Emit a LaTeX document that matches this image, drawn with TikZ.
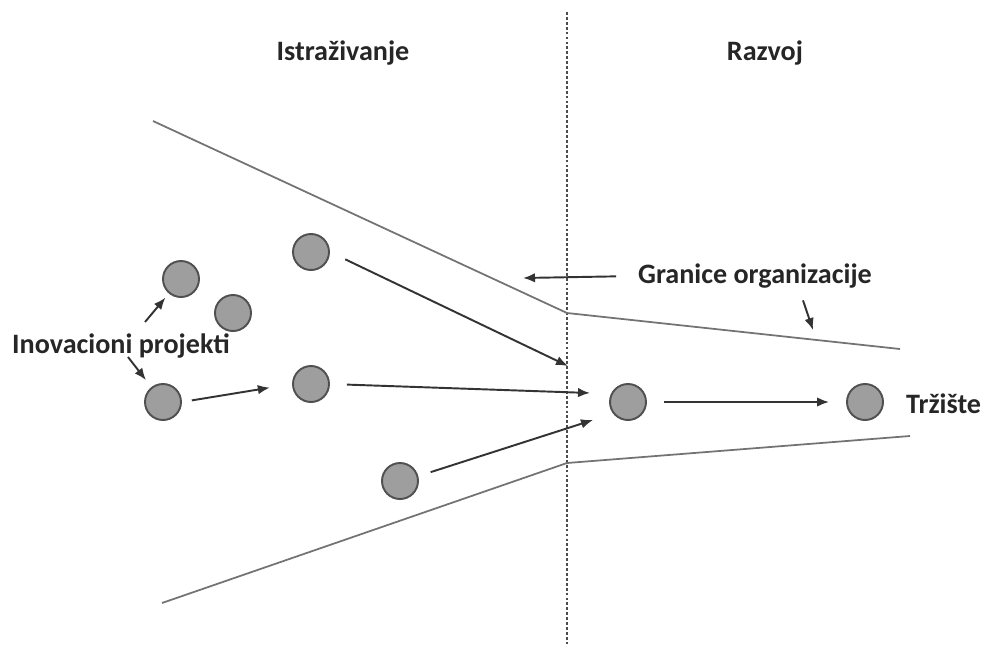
\documentclass[tikz,border=0pt]{standalone}
\usepackage{fontspec}
\setmainfont{Carlito}
\usepackage{tikz}
\usetikzlibrary{arrows.meta, positioning, calc}

\definecolor{dotgray}{RGB}{158,158,158}
\definecolor{rimgray}{RGB}{80,80,80}
\definecolor{edgegray}{RGB}{115,115,115}

\begin{document}
\begin{tikzpicture}[x=0.2mm, y=-0.2mm,
    proj/.style={circle, draw=rimgray, fill=dotgray, line width=1.1pt, minimum size=7.2mm, inner sep=0pt},
    lbl/.style={font=\bfseries\fontsize{16}{18}\selectfont, text=black!85, inner sep=1pt},
    flow/.style={-{Latex[length=2.4mm,width=1.9mm]}, line width=1.1pt, draw=black!80},
    border/.style={draw=edgegray, line width=1pt},
    divider/.style={draw=black!70, line width=0.9pt, dash pattern=on 1.6pt off 1.2pt}]
  \useasboundingbox (0,0) rectangle (988,644);

  % phase split
  \draw[divider] (567,12) -- (567,644);
  \node[lbl] (istr) at (343,53) {Istraživanje};
  \node[lbl] (razv) at (765,53) {Razvoj};

  % organisation borders
  \draw[border] (153,121) -- (567,313) -- (900,349);
  \draw[border] (162,603) -- (567,463) -- (910,436);

  % projects
  \node[proj] (p1) at (181,279) {};
  \node[proj] (p2) at (233,313) {};
  \node[proj] (p3) at (163,402) {};
  \node[proj] (p4) at (311,252) {};
  \node[proj] (p5) at (311,384) {};
  \node[proj] (p6) at (400,481) {};
  \node[proj] (p7) at (628,402) {};
  \node[proj] (p8) at (865,402) {};

  \node[lbl] (inov) at (121,346) {Inovacioni projekti};
  \node[lbl] (gran) at (755,276) {Granice organizacije};
  \node[lbl, anchor=west] (trz) at (904,404) {Tržište};

  % free ends near the split
  \coordinate (t4) at (568,366);
  \coordinate (t5) at (590,393);
  \coordinate (t6) at (593,420);
  \coordinate (g1) at (523,278);
  \coordinate (g2) at (813,330);
  \coordinate (i1) at (145,322);
  \coordinate (i3) at (128,357);

  % flows
  \draw[flow, shorten >=3pt] (i1) -- (p1);
  \draw[flow, shorten >=5pt] (i3) -- (p3);
  \draw[flow, shorten <=2mm, shorten >=4.5mm] (p3.east) -- (p5.west);
  \draw[flow, shorten <=3.4mm] (p4.east) -- (t4);
  \draw[flow, shorten <=3.4mm] (p5.east) -- (t5);
  \draw[flow, shorten <=2.6mm] (p6.15) -- (t6);
  \draw[flow, shorten <=3.4mm, shorten >=3.4mm] (p7.east) -- (p8.west);

  \draw[flow, shorten <=4mm] (gran.west) -- (g1);
  \draw[flow] ($(gran.south)+(48,10)$) -- (g2);
\end{tikzpicture}
\end{document}
